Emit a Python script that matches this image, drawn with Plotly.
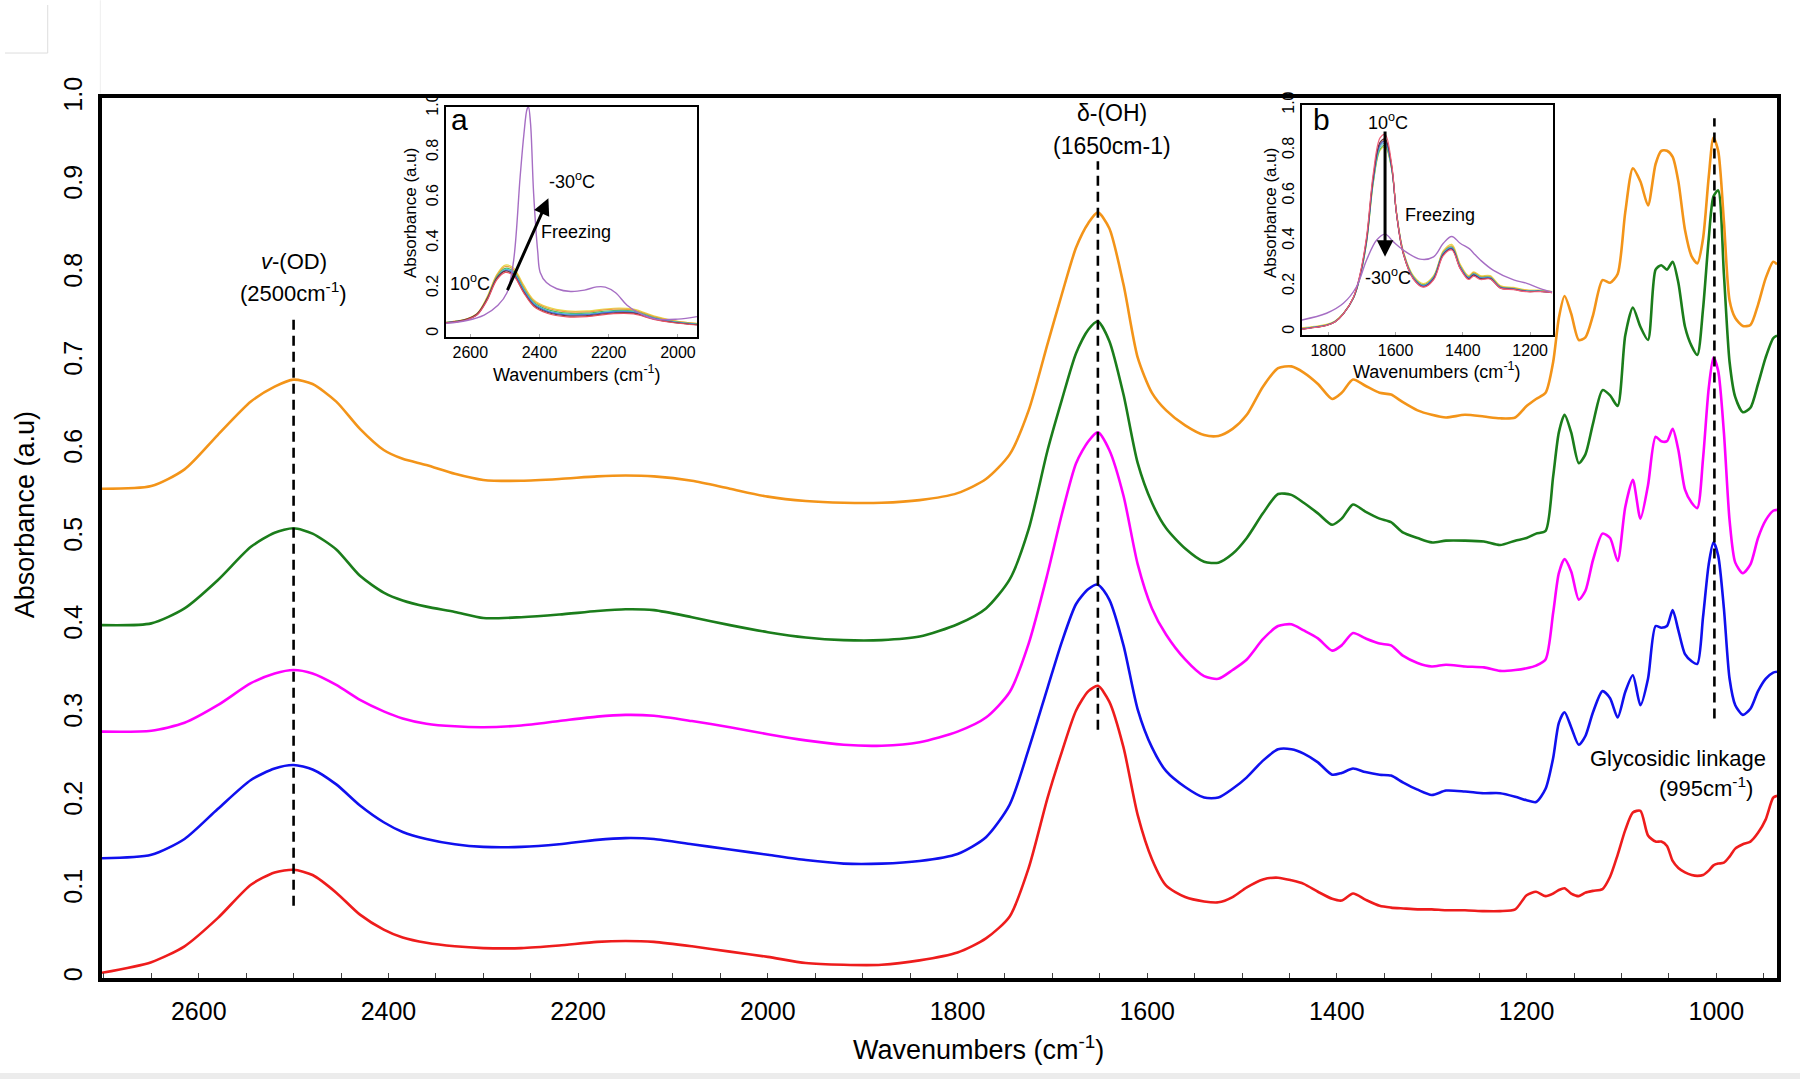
import plotly.graph_objects as go

# ---- main spectra ----
wavenumber = [2702, 2650, 2615, 2580, 2545, 2520, 2500, 2480, 2455, 2430,
              2405, 2385, 2360, 2330, 2300, 2260, 2220, 2180, 2150, 2120,
              2080, 2040, 2000, 1960, 1920, 1880, 1840, 1800, 1770, 1745,
              1725, 1705, 1690, 1675, 1662, 1652, 1640, 1625, 1610, 1595,
              1580, 1560, 1540, 1525, 1510, 1495, 1478, 1462, 1448, 1435,
              1420, 1405, 1395, 1383, 1370, 1355, 1343, 1330, 1315, 1300,
              1285, 1265, 1245, 1228, 1212, 1200, 1190, 1180, 1172, 1166,
              1160, 1153, 1145, 1138, 1130, 1120, 1112, 1104, 1096, 1088,
              1080, 1072, 1064, 1058, 1052, 1046, 1040, 1033, 1026, 1020,
              1014, 1008, 1003, 998, 992, 986, 980, 972, 964, 956,
              948, 940, 936]

orange = [0.556, 0.559, 0.578, 0.617, 0.655, 0.672, 0.680, 0.675, 0.655, 0.624,
          0.600, 0.590, 0.583, 0.573, 0.566, 0.565, 0.567, 0.570, 0.571, 0.570,
          0.565, 0.556, 0.547, 0.542, 0.540, 0.540, 0.543, 0.551, 0.567, 0.595,
          0.645, 0.721, 0.777, 0.830, 0.858, 0.870, 0.852, 0.788, 0.705, 0.665,
          0.645, 0.628, 0.617, 0.616, 0.624, 0.640, 0.672, 0.693, 0.695, 0.688,
          0.675, 0.658, 0.665, 0.680, 0.673, 0.665, 0.663, 0.654, 0.645, 0.640,
          0.637, 0.640, 0.638, 0.636, 0.637, 0.650, 0.658, 0.665, 0.700, 0.750,
          0.775, 0.755, 0.725, 0.728, 0.753, 0.793, 0.790, 0.800, 0.870, 0.920,
          0.905, 0.878, 0.925, 0.940, 0.940, 0.933, 0.905, 0.850, 0.820, 0.812,
          0.840, 0.910, 0.955, 0.940, 0.860, 0.770, 0.750, 0.741, 0.742, 0.765,
          0.795, 0.814, 0.811]

green = [0.401, 0.403, 0.420, 0.452, 0.490, 0.506, 0.511, 0.505, 0.487, 0.457,
         0.438, 0.429, 0.422, 0.416, 0.409, 0.410, 0.413, 0.417, 0.419, 0.418,
         0.410, 0.401, 0.393, 0.387, 0.384, 0.384, 0.388, 0.402, 0.420, 0.453,
         0.510, 0.600, 0.657, 0.710, 0.737, 0.746, 0.724, 0.663, 0.585, 0.540,
         0.511, 0.488, 0.473, 0.472, 0.482, 0.500, 0.528, 0.550, 0.549, 0.540,
         0.528, 0.515, 0.522, 0.538, 0.530, 0.522, 0.518, 0.506, 0.500, 0.495,
         0.497, 0.497, 0.496, 0.492, 0.497, 0.500, 0.505, 0.508, 0.570, 0.620,
         0.640, 0.620, 0.585, 0.595, 0.630, 0.668, 0.662, 0.650, 0.730, 0.762,
         0.740, 0.725, 0.805, 0.810, 0.805, 0.814, 0.790, 0.740, 0.718, 0.708,
         0.760, 0.840, 0.888, 0.895, 0.800, 0.700, 0.660, 0.643, 0.648, 0.675,
         0.705, 0.727, 0.730]

magenta = [0.280, 0.281, 0.290, 0.310, 0.335, 0.346, 0.350, 0.346, 0.333, 0.316,
           0.303, 0.295, 0.289, 0.286, 0.285, 0.287, 0.292, 0.297, 0.299, 0.298,
           0.292, 0.285, 0.277, 0.270, 0.265, 0.264, 0.268, 0.280, 0.296, 0.325,
           0.380, 0.460, 0.527, 0.585, 0.610, 0.620, 0.600, 0.548, 0.470, 0.420,
           0.390, 0.362, 0.343, 0.340, 0.350, 0.362, 0.385, 0.400, 0.402, 0.395,
           0.386, 0.372, 0.378, 0.392, 0.386, 0.380, 0.378, 0.366, 0.358, 0.354,
           0.356, 0.354, 0.353, 0.349, 0.350, 0.352, 0.355, 0.362, 0.415, 0.460,
           0.476, 0.462, 0.430, 0.440, 0.475, 0.505, 0.500, 0.474, 0.535, 0.566,
           0.522, 0.560, 0.615, 0.610, 0.610, 0.624, 0.600, 0.555, 0.540, 0.534,
           0.590, 0.670, 0.705, 0.690, 0.620, 0.520, 0.472, 0.460, 0.470, 0.500,
           0.520, 0.531, 0.532]

blue = [0.136, 0.140, 0.158, 0.192, 0.225, 0.238, 0.242, 0.237, 0.220, 0.196,
        0.177, 0.166, 0.158, 0.152, 0.149, 0.149, 0.152, 0.157, 0.159, 0.158,
        0.152, 0.146, 0.140, 0.134, 0.130, 0.130, 0.133, 0.141, 0.160, 0.197,
        0.260, 0.330, 0.382, 0.425, 0.442, 0.447, 0.430, 0.378, 0.305, 0.262,
        0.235, 0.217, 0.205, 0.205, 0.215, 0.228, 0.247, 0.260, 0.260, 0.255,
        0.245, 0.231, 0.233, 0.238, 0.234, 0.231, 0.230, 0.222, 0.214, 0.208,
        0.213, 0.212, 0.210, 0.210, 0.206, 0.202, 0.200, 0.215, 0.250, 0.290,
        0.302, 0.285, 0.265, 0.275, 0.302, 0.326, 0.318, 0.296, 0.325, 0.344,
        0.310, 0.340, 0.400, 0.398, 0.400, 0.418, 0.395, 0.368, 0.360, 0.357,
        0.410, 0.470, 0.495, 0.480, 0.420, 0.340, 0.310, 0.299, 0.306, 0.326,
        0.340, 0.347, 0.348]

red = [0.006, 0.018, 0.036, 0.068, 0.106, 0.120, 0.123, 0.117, 0.097, 0.072,
       0.055, 0.046, 0.040, 0.036, 0.034, 0.034, 0.037, 0.041, 0.042, 0.041,
       0.036, 0.030, 0.024, 0.017, 0.015, 0.015, 0.020, 0.029, 0.045, 0.070,
       0.125, 0.205, 0.257, 0.304, 0.326, 0.332, 0.314, 0.262, 0.185, 0.135,
       0.105, 0.092, 0.087, 0.086, 0.092, 0.103, 0.112, 0.114, 0.111, 0.107,
       0.098, 0.090, 0.088, 0.096, 0.089, 0.082, 0.080, 0.079, 0.078, 0.078,
       0.077, 0.077, 0.076, 0.076, 0.078, 0.094, 0.098, 0.093, 0.096, 0.100,
       0.102, 0.096, 0.093, 0.097, 0.099, 0.101, 0.115, 0.140, 0.168, 0.188,
       0.190, 0.162, 0.155, 0.155, 0.150, 0.133, 0.125, 0.120, 0.117, 0.116,
       0.117, 0.122, 0.128, 0.130, 0.131, 0.138, 0.147, 0.152, 0.155, 0.165,
       0.180, 0.205, 0.207]

# band marker lines: position, bottom, top
band_pos = [2500, 1652, 1002]
band_bottom = [0.082, 0.282, 0.295]
band_top = [0.750, 0.928, 0.977]

y_ticks = [0, 0.1, 0.2, 0.3, 0.4, 0.5, 0.6, 0.7, 0.8, 0.9, 1.0]
y_ticktext = ["0", "0.1", "0.2", "0.3", "0.4", "0.5", "0.6", "0.7", "0.8", "0.9", "1.0"]

# ---- inset a: OD stretch region ----
ins_a_wn = [2670, 2640, 2610, 2580, 2552, 2523, 2499, 2475, 2446, 2417,
            2378, 2320, 2263, 2186, 2128, 2070, 2012, 1945]
ins_a_yellow = [0.050, 0.055, 0.065, 0.090, 0.160, 0.262, 0.302, 0.290, 0.215, 0.150,
                0.118, 0.100, 0.100, 0.112, 0.108, 0.078, 0.058, 0.045]
ins_a_orange = [0.050, 0.055, 0.064, 0.088, 0.156, 0.258, 0.296, 0.283, 0.208, 0.145,
                0.113, 0.096, 0.096, 0.108, 0.104, 0.075, 0.056, 0.044]
ins_a_green = [0.049, 0.054, 0.063, 0.086, 0.152, 0.252, 0.288, 0.275, 0.200, 0.139,
               0.107, 0.090, 0.090, 0.102, 0.099, 0.071, 0.053, 0.042]
ins_a_cyan = [0.049, 0.054, 0.062, 0.085, 0.150, 0.248, 0.283, 0.269, 0.195, 0.134,
              0.102, 0.086, 0.086, 0.098, 0.096, 0.069, 0.052, 0.041]
ins_a_blue = [0.048, 0.053, 0.062, 0.084, 0.148, 0.244, 0.278, 0.264, 0.190, 0.130,
              0.098, 0.082, 0.083, 0.095, 0.093, 0.067, 0.050, 0.040]
ins_a_brown = [0.048, 0.054, 0.064, 0.088, 0.152, 0.246, 0.276, 0.259, 0.184, 0.125,
               0.094, 0.078, 0.079, 0.091, 0.090, 0.065, 0.049, 0.039]
ins_a_red = [0.047, 0.052, 0.061, 0.083, 0.145, 0.238, 0.270, 0.255, 0.181, 0.121,
             0.090, 0.074, 0.075, 0.088, 0.087, 0.063, 0.048, 0.038]
ins_a_purple_wn = [2670, 2610, 2560, 2520, 2494, 2475, 2456, 2445, 2436, 2432,
                   2426, 2417, 2405, 2398, 2380, 2350, 2310, 2270, 2235, 2210,
                   2180, 2147, 2109, 2060, 2000, 1945]
ins_a_purple = [0.045, 0.058, 0.082, 0.125, 0.180, 0.320, 0.690, 0.880, 0.990, 1.000,
                0.930, 0.620, 0.360, 0.270, 0.225, 0.198, 0.186, 0.192, 0.206, 0.205,
                0.180, 0.125, 0.088, 0.063, 0.064, 0.075]

# ---- inset b: OH bending / fingerprint region ----
ins_b_wn = [1879, 1840, 1805, 1780, 1755, 1725, 1706, 1686, 1666, 1646,
            1631, 1612, 1597, 1577, 1547, 1517, 1487, 1458, 1433, 1408,
            1383, 1368, 1348, 1319, 1289, 1249, 1210, 1170, 1135]
ins_b_pink = [0.010, 0.018, 0.027, 0.042, 0.078, 0.152, 0.250, 0.420, 0.700, 0.855,
              0.870, 0.745, 0.520, 0.345, 0.232, 0.196, 0.228, 0.335, 0.360, 0.278,
              0.230, 0.245, 0.230, 0.232, 0.192, 0.185, 0.176, 0.176, 0.172]
ins_b_orange = [0.014, 0.021, 0.030, 0.045, 0.080, 0.150, 0.242, 0.404, 0.675, 0.825,
                0.845, 0.735, 0.525, 0.352, 0.242, 0.207, 0.242, 0.352, 0.378, 0.293,
                0.243, 0.260, 0.243, 0.243, 0.200, 0.192, 0.182, 0.181, 0.176]
ins_b_yellow = [0.016, 0.023, 0.032, 0.047, 0.080, 0.148, 0.236, 0.392, 0.655, 0.800,
                0.815, 0.720, 0.525, 0.356, 0.247, 0.212, 0.247, 0.357, 0.385, 0.298,
                0.247, 0.264, 0.247, 0.247, 0.203, 0.195, 0.184, 0.183, 0.177]
ins_b_green = [0.012, 0.020, 0.029, 0.044, 0.079, 0.148, 0.238, 0.396, 0.662, 0.805,
               0.822, 0.722, 0.522, 0.350, 0.240, 0.205, 0.240, 0.348, 0.373, 0.288,
               0.240, 0.256, 0.240, 0.240, 0.198, 0.190, 0.180, 0.180, 0.175]
ins_b_cyan = [0.012, 0.020, 0.028, 0.043, 0.078, 0.148, 0.240, 0.400, 0.668, 0.815,
              0.832, 0.726, 0.520, 0.348, 0.238, 0.203, 0.238, 0.346, 0.370, 0.286,
              0.238, 0.254, 0.238, 0.238, 0.196, 0.189, 0.179, 0.179, 0.174]
ins_b_blue = [0.011, 0.019, 0.028, 0.043, 0.078, 0.149, 0.243, 0.405, 0.675, 0.825,
              0.840, 0.730, 0.520, 0.346, 0.236, 0.201, 0.236, 0.343, 0.367, 0.283,
              0.236, 0.252, 0.236, 0.236, 0.195, 0.188, 0.178, 0.178, 0.173]
ins_b_brown = [0.010, 0.018, 0.027, 0.042, 0.078, 0.150, 0.246, 0.410, 0.685, 0.835,
               0.850, 0.735, 0.518, 0.343, 0.233, 0.198, 0.232, 0.340, 0.364, 0.280,
               0.233, 0.249, 0.233, 0.234, 0.193, 0.186, 0.177, 0.177, 0.172]
ins_b_purple_wn = [1879, 1805, 1755, 1716, 1686, 1656, 1631, 1607, 1577, 1527,
                   1487, 1458, 1433, 1408, 1380, 1368, 1348, 1309, 1249, 1210,
                   1170, 1135]
ins_b_purple = [0.051, 0.081, 0.125, 0.198, 0.316, 0.404, 0.430, 0.397, 0.360, 0.320,
                0.330, 0.390, 0.420, 0.390, 0.365, 0.346, 0.316, 0.270, 0.228, 0.213,
                0.190, 0.175]

inset_ticks = [0, 0.2, 0.4, 0.6, 0.8, 1.0]
inset_ticktext = ["0", "0.2", "0.4", "0.6", "0.8", "1.0"]

FONT = "Liberation Sans, Arial, sans-serif"

fig = go.Figure()

main_series = [
    (red, "#ee1c1c"),
    (blue, "#1010ee"),
    (magenta, "#ff00ff"),
    (green, "#1b7d1b"),
    (orange, "#f39419"),
]
for vals, col in main_series:
    fig.add_trace(go.Scatter(x=wavenumber, y=vals, mode="lines",
                             line=dict(color=col, width=2.6, shape="spline", smoothing=0.7),
                             hoverinfo="skip"))

for pos, lo, hi in zip(band_pos, band_bottom, band_top):
    fig.add_trace(go.Scatter(x=[pos, pos], y=[lo, hi], mode="lines",
                             line=dict(color="black", width=2.6, dash="10px,6px"),
                             hoverinfo="skip"))

# inset a traces
inset_a = [
    (ins_a_yellow, "#e8d84a"), (ins_a_orange, "#f0a040"), (ins_a_green, "#58b858"),
    (ins_a_cyan, "#44c0d8"), (ins_a_blue, "#4a60d8"), (ins_a_brown, "#6a3a3a"),
    (ins_a_red, "#e85060"),
]
for vals, col in inset_a:
    fig.add_trace(go.Scatter(x=ins_a_wn, y=vals, mode="lines", xaxis="x2", yaxis="y2",
                             line=dict(color=col, width=1.2, shape="spline"),
                             hoverinfo="skip"))
fig.add_trace(go.Scatter(x=ins_a_purple_wn, y=ins_a_purple, mode="lines", xaxis="x2", yaxis="y2",
                         line=dict(color="#a66ec4", width=1.4, shape="spline"),
                         hoverinfo="skip"))

# inset b traces
inset_b = [
    (ins_b_yellow, "#e8d84a"), (ins_b_orange, "#f0a040"), (ins_b_green, "#58b858"),
    (ins_b_cyan, "#44c0d8"), (ins_b_blue, "#4a60d8"), (ins_b_brown, "#6a2a3a"),
    (ins_b_pink, "#f0607a"),
]
for vals, col in inset_b:
    fig.add_trace(go.Scatter(x=ins_b_wn, y=vals, mode="lines", xaxis="x3", yaxis="y3",
                             line=dict(color=col, width=1.2, shape="spline"),
                             hoverinfo="skip"))
fig.add_trace(go.Scatter(x=ins_b_purple_wn, y=ins_b_purple, mode="lines", xaxis="x3", yaxis="y3",
                         line=dict(color="#a66ec4", width=1.4, shape="spline"),
                         hoverinfo="skip"))

ann = []
def text(x, y, s, size, xref="paper", yref="paper", xanchor="center", angle=0):
    ann.append(dict(x=x, y=y, xref=xref, yref=yref, text=s, showarrow=False,
                    xanchor=xanchor, yanchor="middle", textangle=angle,
                    font=dict(family=FONT, size=size, color="black")))

# main labels
text(-0.046, 0.527, "Absorbance (a.u)", 27, angle=-90)
text(0.523, -0.0795, "Wavenumbers (cm<sup>-1</sup>)", 27)
text(2500, 0.814, "<i>v</i>-(OD)", 22, xref="x", yref="y")
text(2500, 0.780, "(2500cm<sup>-1</sup>)", 22, xref="x", yref="y")
text(1637, 0.983, "δ-(OH)", 23, xref="x", yref="y")
text(1637, 0.946, "(1650cm-1)", 23, xref="x", yref="y")
text(0.9946, 0.249, "Glycosidic linkage", 22, xanchor="right")
text(0.9869, 0.2165, "(995cm<sup>-1</sup>)", 22, xanchor="right")

# inset a labels
text(0.1839, 0.8693, "Absorbance (a.u)", 17, angle=-90)
text(0.2836, 0.6875, "Wavenumbers (cm<sup>-1</sup>)", 18)
text(0.2137, 0.9760, "a", 30)
text(0.2804, 0.9068, "-30<sup>o</sup>C", 18)
text(0.2610, 0.8481, "Freezing", 18, xanchor="left")
text(0.2197, 0.7898, "10<sup>o</sup>C", 18)

# inset b labels
text(0.6973, 0.8693, "Absorbance (a.u)", 17, angle=-90)
text(0.7970, 0.6909, "Wavenumbers (cm<sup>-1</sup>)", 18)
text(0.7282, 0.9760, "b", 30)
text(0.7678, 0.9731, "10<sup>o</sup>C", 18)
text(0.7765, 0.8670, "Freezing", 18, xanchor="left")
text(0.7678, 0.7970, "-30<sup>o</sup>C", 18)

# freezing arrows
ann.append(dict(x=0.2665, y=0.8860, xref="paper", yref="paper", ax=-41.6, ay=93.4,
                text="", showarrow=True, arrowhead=2, arrowsize=1.1, arrowwidth=3,
                arrowcolor="black"))
ann.append(dict(x=0.7660, y=0.8197, xref="paper", yref="paper", ax=0, ay=-126.7,
                text="", showarrow=True, arrowhead=2, arrowsize=1.1, arrowwidth=3,
                arrowcolor="black"))

shapes = [
    # faint frame remnants from the original scan
    dict(type="rect", xref="paper", yref="paper", x0=-0.061, x1=1.014, y0=-0.115, y1=-0.108,
         fillcolor="#ececec", line=dict(width=0), layer="below"),
    dict(type="line", xref="paper", yref="paper", x0=-0.0324, x1=-0.0324, y0=1.0511, y1=1.1057,
         line=dict(color="#dddddd", width=1)),
    dict(type="line", xref="paper", yref="paper", x0=-0.0579, x1=-0.0324, y0=1.0511, y1=1.0511,
         line=dict(color="#dddddd", width=1)),
    dict(type="line", xref="paper", yref="paper", x0=-0.001, x1=-0.001, y0=1.005, y1=1.111,
         line=dict(color="#eeeeee", width=1)),
]

fig.update_layout(
    width=1800, height=1079,
    margin=dict(l=102, r=23, t=98, b=101),
    paper_bgcolor="white", plot_bgcolor="white",
    showlegend=False,
    font=dict(family=FONT, color="black"),
    annotations=ann,
    shapes=shapes,
    xaxis=dict(range=[2702, 936], showgrid=False, zeroline=False,
               showline=True, linecolor="black", linewidth=4, mirror=True,
               tick0=0, dtick=200, ticks="inside", ticklen=5, tickwidth=1, tickcolor="#444",
               minor=dict(dtick=50, ticks="inside", ticklen=5, tickwidth=1, tickcolor="#444"),
               tickfont=dict(size=25), ticklabelstandoff=8),
    yaxis=dict(range=[0, 1.0], showgrid=False, zeroline=False,
               showline=True, linecolor="black", linewidth=4, mirror=True,
               tickvals=y_ticks, ticktext=y_ticktext, ticks="",
               tickangle=-90, tickfont=dict(size=25), ticklabelstandoff=6),
    xaxis2=dict(domain=[0.2054, 0.3552], anchor="y2", range=[2670, 1945],
                showgrid=False, zeroline=False, showline=True, linecolor="black",
                linewidth=2, mirror=True, tick0=0, dtick=200, ticks="inside",
                ticklen=3, tickcolor="#aaa", tickfont=dict(size=16)),
    yaxis2=dict(domain=[0.7284, 0.9898], anchor="x2", range=[-0.015, 1.0],
                showgrid=False, zeroline=False, showline=True, linecolor="black",
                linewidth=2, mirror=True, tickvals=inset_ticks, ticktext=inset_ticktext,
                ticks="", tickangle=-90, tickfont=dict(size=16)),
    xaxis3=dict(domain=[0.7164, 0.8663], anchor="y3", range=[1878, 1132],
                showgrid=False, zeroline=False, showline=True, linecolor="black",
                linewidth=2, mirror=True, tick0=0, dtick=200, ticks="inside",
                ticklen=3, tickcolor="#aaa", tickfont=dict(size=16)),
    yaxis3=dict(domain=[0.7307, 0.9920], anchor="x3", range=[-0.015, 1.0],
                showgrid=False, zeroline=False, showline=True, linecolor="black",
                linewidth=2, mirror=True, tickvals=inset_ticks, ticktext=inset_ticktext,
                ticks="", tickangle=-90, tickfont=dict(size=16)),
)

# drop the browser's default page margin so the figure sits at the window corner
fig.write_html("out.html", config={"displayModeBar": False},
               post_script="document.body.style.margin='0px';")
